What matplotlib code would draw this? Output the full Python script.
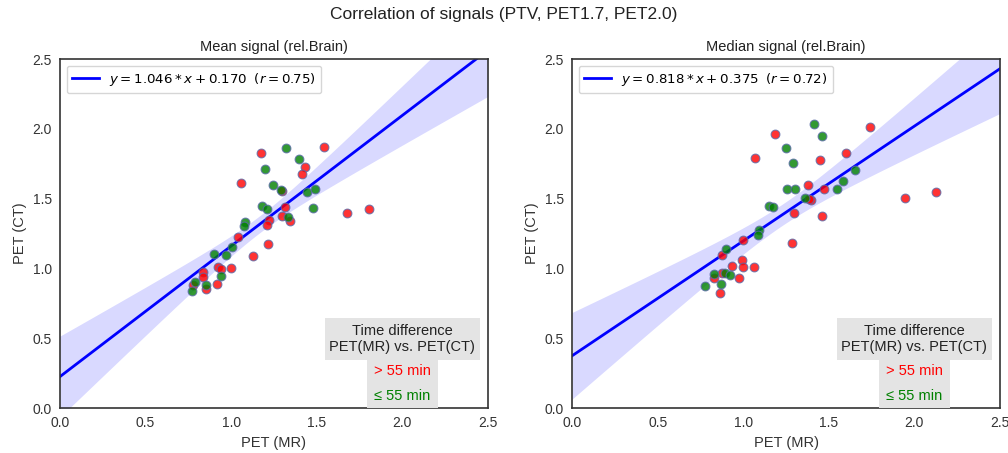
import numpy as np
import matplotlib
matplotlib.use("Agg")
import matplotlib.pyplot as plt
from matplotlib.patches import Rectangle

plt.rcParams['font.family'] = ['Liberation Sans', 'DejaVu Sans']

# Mean signal (rel. Brain): time difference > 55 min
mean_late_mr = [1.176, 1.542, 1.433, 1.414, 1.057, 1.297, 1.312, 1.678, 1.803, 1.297, 1.343, 1.219,
                1.211, 1.038, 1.217, 1.129, 0.925, 0.938, 0.999, 0.837, 0.833, 0.775, 0.851, 0.917]
mean_late_ct = [1.829, 1.867, 1.724, 1.676, 1.614, 1.552, 1.442, 1.399, 1.423, 1.375, 1.340, 1.347,
                1.313, 1.227, 1.175, 1.091, 1.012, 0.993, 1.005, 0.972, 0.936, 0.879, 0.855, 0.888]
# Mean signal: time difference <= 55 min
mean_early_mr = [1.320, 1.396, 1.196, 1.244, 1.289, 1.441, 1.489, 1.180, 1.207, 1.476, 1.332, 1.081,
                 1.075, 1.007, 0.900, 0.968, 0.941, 0.790, 0.771, 0.853]
mean_early_ct = [1.860, 1.781, 1.710, 1.597, 1.559, 1.547, 1.569, 1.447, 1.428, 1.433, 1.366, 1.332,
                 1.306, 1.155, 1.103, 1.098, 0.946, 0.905, 0.840, 0.883]

# Median signal (rel. Brain): time difference > 55 min
med_late_mr = [1.188, 1.741, 1.069, 1.450, 1.600, 1.472, 1.377, 1.398, 1.383, 1.947, 2.126, 1.297,
               1.458, 0.999, 1.287, 0.876, 0.995, 0.933, 0.999, 1.065, 0.876, 0.829, 0.977, 0.863]
med_late_ct = [1.965, 2.011, 1.788, 1.774, 1.829, 1.571, 1.600, 1.490, 1.495, 1.506, 1.547, 1.394,
               1.375, 1.206, 1.180, 1.098, 1.062, 1.019, 1.008, 1.010, 0.965, 0.933, 0.931, 0.824]
# Median signal: time difference <= 55 min
med_early_mr = [1.415, 1.460, 1.250, 1.293, 1.651, 1.585, 1.550, 1.254, 1.304, 1.363, 1.153, 1.172,
                1.092, 1.088, 0.901, 0.829, 0.896, 0.923, 0.777, 0.870]
med_early_ct = [2.037, 1.948, 1.862, 1.757, 1.703, 1.628, 1.571, 1.571, 1.571, 1.502, 1.447, 1.437,
                1.275, 1.237, 1.141, 0.960, 0.969, 0.950, 0.876, 0.886]

titles = ['Mean signal (rel.Brain)', 'Median signal (rel.Brain)']
fit_labels = [r'$y=1.046*x+0.170$  $(r=0.75)$', r'$y=0.818*x+0.375$  $(r=0.72)$']
ticks = [0.0, 0.5, 1.0, 1.5, 2.0, 2.5]

panels = [(mean_late_mr, mean_late_ct, mean_early_mr, mean_early_ct),
          (med_late_mr, med_late_ct, med_early_mr, med_early_ct)]

fig = plt.figure(figsize=(10.08, 4.53), dpi=100)
axes = [fig.add_axes([0.0595, 0.0993, 0.4246, 0.7704]),
        fig.add_axes([0.5675, 0.0993, 0.4246, 0.7704])]

for ax, (lx, ly, ex, ey), title, lab in zip(axes, panels, titles, fit_labels):
    x = np.array(lx + ex)
    y = np.array(ly + ey)
    n = len(x)
    b, a = np.polyfit(x, y, 1)
    xs = np.linspace(0, 2.5, 200)
    ys = a + b * xs
    resid = y - (a + b * x)
    s = np.sqrt(np.sum(resid ** 2) / (n - 2))
    sxx = np.sum((x - x.mean()) ** 2)
    se = s * np.sqrt(1.0 / n + (xs - x.mean()) ** 2 / sxx)
    ax.fill_between(xs, ys - 2.02 * se, ys + 2.02 * se, color='blue', alpha=0.15, lw=0)
    ax.plot(xs, ys, color='blue', lw=2, label=lab, zorder=2)
    ax.scatter(lx, ly, s=40, color='red', alpha=0.8, edgecolor='#5a6aa8', lw=0.8, zorder=3)
    ax.scatter(ex, ey, s=40, color='green', alpha=0.8, edgecolor='#5a6aa8', lw=0.8, zorder=3)

    ax.set_xlim(0, 2.5)
    ax.set_ylim(0, 2.5)
    ax.set_xticks(ticks)
    ax.set_yticks(ticks)
    ax.tick_params(labelsize=10, colors='#333333', length=0, pad=6)
    for sp in ax.spines.values():
        sp.set_color('#333333')
        sp.set_linewidth(1.2)
    ax.set_title(title, fontsize=10.5, color='#222222', pad=6)
    ax.set_xlabel('PET (MR)', fontsize=10.5, color='#333333')
    ax.set_ylabel('PET (CT)', fontsize=10.5, color='#333333')
    leg = ax.legend(loc='upper left', fontsize=9.6, handlelength=2.0, borderaxespad=0.5)
    leg.get_frame().set_edgecolor('#cccccc')

    # time-difference key in the lower right corner
    ax.add_patch(Rectangle((0.619, 0.1375), 0.362, 0.121, transform=ax.transAxes,
                           facecolor='#e4e4e4', edgecolor='none', zorder=4))
    ax.add_patch(Rectangle((0.717, 0.0), 0.166, 0.1375, transform=ax.transAxes,
                           facecolor='#e4e4e4', edgecolor='none', zorder=4))
    ax.text(0.80, 0.198, 'Time difference\nPET(MR) vs. PET(CT)', transform=ax.transAxes,
            ha='center', va='center', fontsize=10.5, color='#222222', linespacing=1.15, zorder=5)
    ax.text(0.80, 0.106, '> 55 min', transform=ax.transAxes, ha='center', va='center',
            fontsize=10.5, color='red', zorder=5)
    ax.text(0.80, 0.035, '\u2264 55 min', transform=ax.transAxes, ha='center', va='center',
            fontsize=10.5, color='green', zorder=5)

fig.suptitle('Correlation of signals (PTV, PET1.7, PET2.0)', fontsize=12.5, y=0.985, color='#222222')
fig.savefig('out.png', dpi=100)
